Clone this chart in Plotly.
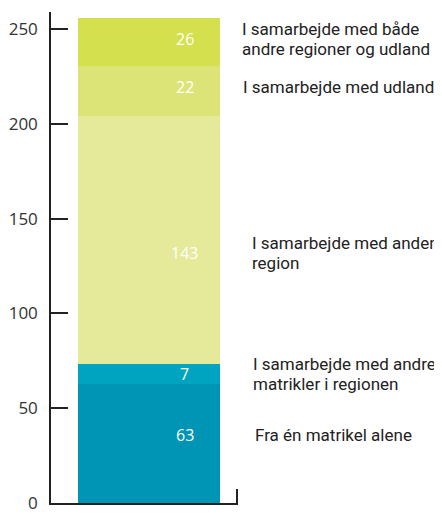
import plotly.graph_objects as go

# Data (segment heights as drawn, bottom to top) and printed value labels
categories = ["Fra én matrikel alene",
              "I samarbejde med andre<br>matrikler i regionen",
              "I samarbejde med anden<br>region",
              "I samarbejde med udland",
              "I samarbejde med både<br>andre regioner og udland"]
bar_heights = [63, 10.2, 131, 26.5, 25.3]
value_labels = ["63", "7", "143", "22", "26"]
colors = ["#0094b5", "#00a4c0", "#e5e99a", "#dde477", "#d4e04e"]
yticks = [0, 50, 100, 150, 200, 250]

# styling: label vertical nudges (px, positive = up) and line spacing
label_yshift = [8, 0, -13, 4, 3]
line_gap = [0, 20, 20, 0, 20]

OFF = 8  # page body margin
label_x_px = [p - OFF for p in [254, 252, 251, 242, 241]]

W, H = 442 - OFF, 514 - OFF
L = 51 - OFF
T = 12 - OFF
plot_right = 238 - OFF
plot_bottom = 503 - OFF
R_ = W - plot_right
B = H - plot_bottom
plot_w = plot_right - L

fig = go.Figure()
for name, h, c in zip(categories, bar_heights, colors):
    fig.add_trace(go.Bar(x=[0], y=[h], width=1, marker=dict(color=c, line=dict(width=0)),
                         name=name, showlegend=False, hoverinfo="skip"))

annotations = []
cum = 0
for name, h, lab, lx, ys, gap in zip(categories, bar_heights, value_labels,
                                     label_x_px, label_yshift, line_gap):
    mid = cum + h / 2
    cum += h
    annotations.append(dict(x=0.25, y=mid, xref="x", yref="y", text=lab, showarrow=False,
                            yshift=ys,
                            font=dict(family="Open Sans", size=16, color="white"),
                            xanchor="center", yanchor="middle"))
    lines = name.split("<br>")
    n = len(lines)
    for i, line in enumerate(lines):
        offset = ((n - 1) / 2 - i) * gap
        annotations.append(dict(x=(lx - L) / plot_w, y=mid, xref="paper", yref="y", text=line,
                                showarrow=False, align="left", yshift=ys + offset,
                                borderpad=0,
                                font=dict(family="Roboto", size=17, color="#222222"),
                                xanchor="left", yanchor="middle"))

px_per_unit = 142
x_left = -0.5 - (78 - 51) / px_per_unit
x_tick = 0.5 + (236.5 - 220) / px_per_unit
x_right = 0.5 + (238 - 220) / px_per_unit

fig.update_layout(
    barmode="stack",
    width=W, height=H,
    margin=dict(l=L, r=R_, t=T, b=B, pad=0),
    plot_bgcolor="white", paper_bgcolor="white",
    annotations=annotations,
    xaxis=dict(range=[x_left, x_right], showgrid=False, zeroline=False, automargin=False,
               showline=True, linecolor="#222222", linewidth=1.5,
               tickmode="array", tickvals=[x_tick], ticks="inside", ticklen=14,
               tickwidth=1.5, tickcolor="#222222", showticklabels=False),
    yaxis=dict(range=[0, 259], showgrid=False, zeroline=False, automargin=False,
               showline=True, linecolor="#222222", linewidth=1.5,
               tickmode="array", tickvals=yticks, ticks="inside", ticklen=17,
               tickwidth=1.5, tickcolor="#222222",
               tickfont=dict(family="Open Sans", size=17, color="#333333"),
               ticklabelstandoff=8),
)

fig.write_html("out.html")
